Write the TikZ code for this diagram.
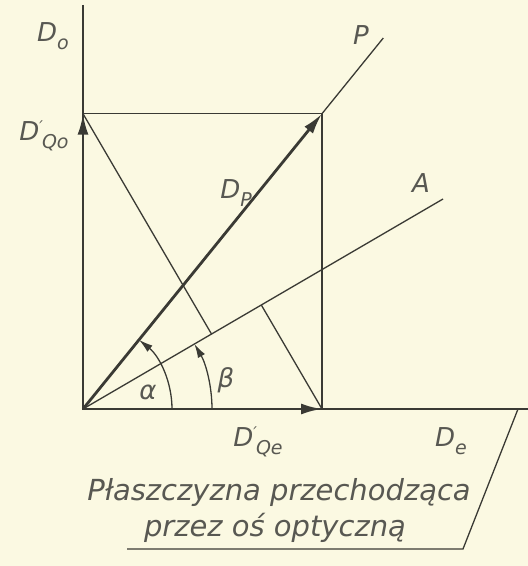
\documentclass[tikz,border=0pt]{standalone}
\usepackage{fontspec}
\setmainfont{DejaVu Sans}
\usetikzlibrary{arrows.meta,calc}
\definecolor{paper}{RGB}{251,249,226}
\definecolor{ink}{RGB}{58,58,52}
\definecolor{txt}{RGB}{88,88,82}
\newcommand\lsub[1]{\raisebox{-0.3em}{\fontsize{19}{19}\selectfont #1}}
\newcommand\lprime{\raisebox{0.3em}{\fontsize{16}{16}\selectfont ′}\kern-1pt}
\begin{document}
\begin{tikzpicture}[x=1pt,y=1pt,
  thinl/.style={draw=ink, line width=1.3pt},
  vec/.style={draw=ink, line width=2.8pt, -{Latex[length=21pt,width=11pt]}},
  arcv/.style={draw=ink, line width=1.3pt, -{Latex[length=14pt,width=8pt]}},
  lbl/.style={text=txt, font=\itshape\fontsize{26}{26}\selectfont, inner sep=0pt},
  capt/.style={text=txt, font=\itshape\fontsize{29}{29}\selectfont, inner sep=0pt, anchor=base}]
\fill[paper] (0,0) rectangle (528,566);
\useasboundingbox (0,0) rectangle (528,566);
% points
\coordinate (O) at (83,157);
\coordinate (Qo) at (83,452.3);
\coordinate (Qe) at (322,157);
\coordinate (Pc) at (322,452.3);
\coordinate (Otop) at (83,561);
\coordinate (Eend) at (528,157);
\coordinate (Ptop) at (383.3,528);
\coordinate (Aend) at (443,367);
\coordinate (F1) at ($(O)!(Qo)!(Aend)$);
\coordinate (F2) at ($(O)!(Qe)!(Aend)$);
\coordinate (S1) at (518,157);
\coordinate (S2) at (463,17);
\coordinate (S3) at (127,17);
% thin lines
\draw[thinl] (Otop) -- (O) -- (Eend);
\draw[thinl] (Qo) -- (Pc) -- (Qe);
\draw[thinl] (Pc) -- (Ptop);
\draw[thinl] (O) -- (Aend);
\draw[thinl] (Qo) -- (F1);
\draw[thinl] (Qe) -- (F2);
\draw[thinl] (S1) -- (S2) -- (S3);
% arcs
\draw[arcv] ($(O)+(89,0)$) arc[start angle=0, end angle=51, radius=89pt];
\draw[arcv] ($(O)+(129,0)$) arc[start angle=0, end angle=30.3, radius=129pt];
% vectors
\draw[vec] (O) -- (Qo);
\draw[vec] (O) -- (Qe);
\draw[vec] (O) -- (Pc);
% labels
\node[lbl] (lDo) at (53,530) {D\lsub{o}};
\node[lbl] (lDQo) at (44,430) {D\lprime\lsub{Qo}};
\node[lbl] (lP) at (361,531) {P};
\node[lbl] (lDP) at (236,373) {D\lsub{P}};
\node[lbl] (lA) at (421,383) {A};
\node[lbl] (lal) at (148,174) {α};
\node[lbl] (lbe) at (226,186) {β};
\node[lbl] (lDQe) at (258,124) {D\lprime\lsub{Qe}};
\node[lbl] (lDe) at (451,125) {D\lsub{e}};
\node[capt] (c1) at (279,65) {Płaszczyzna przechodząca};
\node[capt] (c2) at (275,29) {przez oś optyczną};
\end{tikzpicture}
\end{document}
